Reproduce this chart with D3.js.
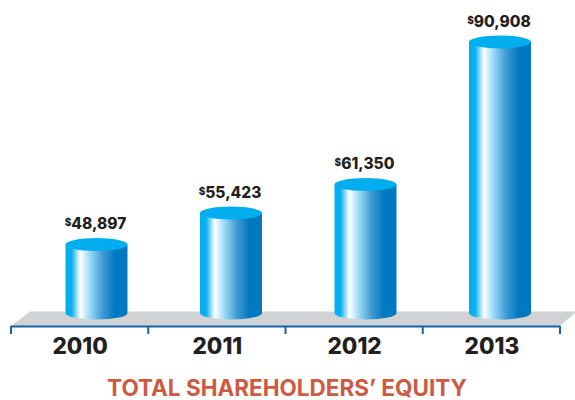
<!DOCTYPE html>
<html><head><meta charset="utf-8">
<script src="https://cdn.jsdelivr.net/npm/d3@7"></script>
<style>html,body{margin:0;padding:0;background:#fff}svg{display:block}text{font-family:Inter,"Open Sans",sans-serif}</style>
</head><body><svg id="c" width="575" height="400"></svg>
<script>
const years = ["2010","2011","2012","2013"];
const equity = [48897,55423,61350,90908];
const chartTitle = "TOTAL SHAREHOLDERS’ EQUITY";

const svg = d3.select("#c");
const x = d3.scaleBand().domain(years).range([11,560]);
const xBar = d3.scalePoint().domain(years).range([96.5,500]);
const y = d3.scaleLinear().domain([34700,90908]).range([313,42]);
const rx = 31, ry = 6.5;

const grad = svg.append("defs").append("linearGradient").attr("id","cyl");
[[0,"#00aeef"],[0.1,"#0cb0ef"],[0.24,"#ffffff"],[0.4,"#97d8f6"],[0.6,"#3f9ad3"],[0.8,"#0079c1"],[1,"#0079c1"]]
  .forEach(s=>grad.append("stop").attr("offset",s[0]).attr("stop-color",s[1]));

// floor
svg.append("path")
  .attr("d",d3.line()([[x.range()[0],326],[30,311.5],[575,311.5],[575,313],[x.range()[1],326]]))
  .attr("fill","#d1d2d4");

// cylinders
const bars = svg.selectAll("g.bar").data(years.map((d,i)=>({year:d,value:equity[i]}))).join("g").attr("class","bar");
bars.append("path")
  .attr("fill","url(#cyl)")
  .attr("d",d=>{
    const c=xBar(d.year), t=y(d.value), b=y.range()[0];
    return `M${c-rx},${t}L${c-rx},${b}A${rx},${ry} 0 0 0 ${c+rx},${b}L${c+rx},${t}Z`;
  });
bars.append("ellipse")
  .attr("cx",d=>xBar(d.year)).attr("cy",d=>y(d.value))
  .attr("rx",rx).attr("ry",ry).attr("fill","#00aeef");

// value labels
const lab = bars.append("text")
  .attr("x",d=>xBar(d.year)-1).attr("y",d=>y(d.value)-15.5)
  .attr("text-anchor","middle")
  .attr("fill","#231f20").attr("font-size",15.5).attr("font-weight",800);
lab.append("tspan").text("$").attr("font-size",10).attr("dy",-3);
lab.append("tspan").text(d=>d3.format(",")(d.value)).attr("dy",3);

// axis
const axis = svg.append("g");
axis.append("line").attr("x1",x.range()[0]).attr("x2",x.range()[1]).attr("y1",326.5).attr("y2",326.5)
  .attr("stroke","#14649f").attr("stroke-width",2);
axis.selectAll("line.t").data([...years.map(d=>x(d)),x.range()[1]]).join("line").attr("class","t")
  .attr("x1",d=>d).attr("x2",d=>d).attr("y1",326).attr("y2",334)
  .attr("stroke","#14649f").attr("stroke-width",2);
axis.selectAll("text").data(years).join("text")
  .attr("x",d=>x(d)+x.bandwidth()/2+0.5).attr("y",354)
  .attr("text-anchor","middle").attr("fill","#231f20")
  .attr("font-size",22.5).attr("font-weight",800).text(d=>d);

svg.append("text").attr("x",287).attr("y",396)
  .attr("text-anchor","middle").attr("fill","#cd5a43")
  .attr("font-size",22.5).attr("font-weight",700).text(chartTitle);
</script></body></html>
